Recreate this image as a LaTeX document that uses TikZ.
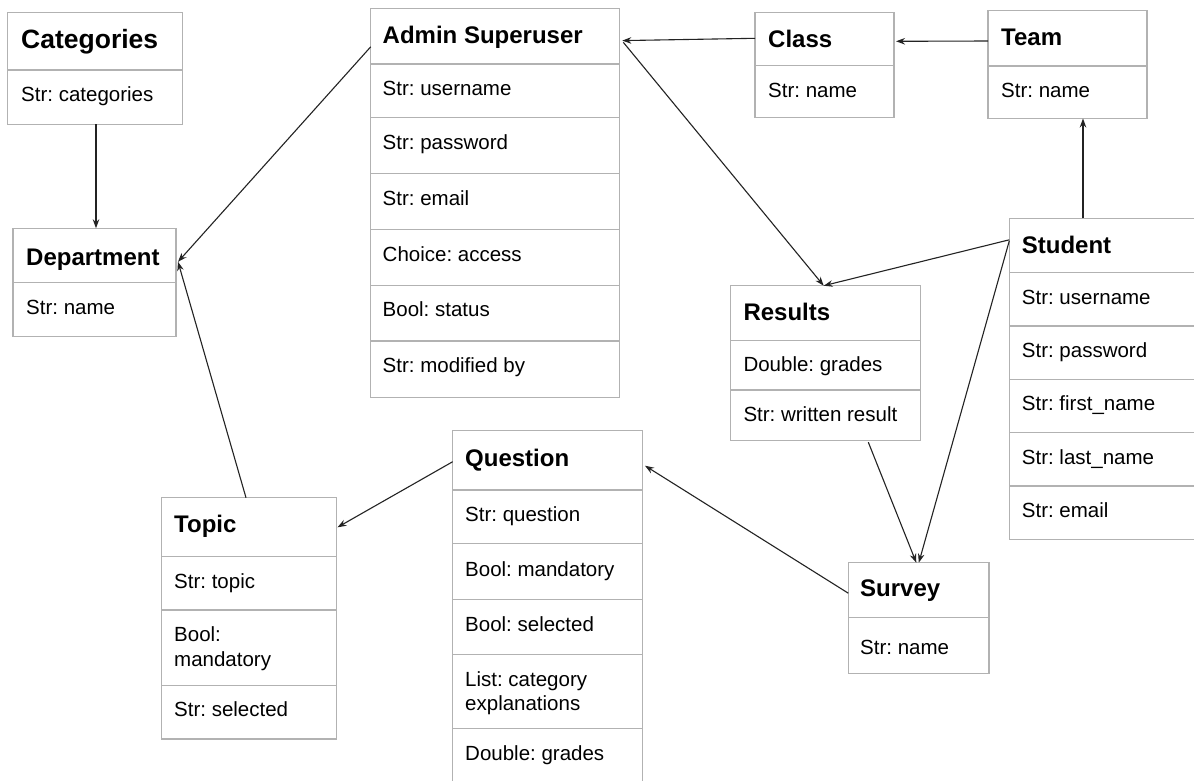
\documentclass[tikz,border=0pt]{standalone}
\usepackage{fontspec}
\setmainfont{Liberation Sans}
\usetikzlibrary{calc,arrows.meta}
\definecolor{boxgray}{RGB}{178,178,178}
\definecolor{linecol}{RGB}{35,35,35}
\frenchspacing
\begin{document}
\begin{tikzpicture}[x=1pt,y=-1pt,
  ent/.style={draw=boxgray,line width=1.3pt,rectangle,inner sep=0pt,outer sep=0pt,anchor=north west},
  divl/.style={draw=boxgray,line width=1.3pt},
  ttl/.style={anchor=base west,inner sep=0pt,font=\fontsize{24}{28}\selectfont\bfseries},
  bigttl/.style={anchor=base west,inner sep=0pt,font=\fontsize{26.5}{30}\selectfont\bfseries},
  attr/.style={anchor=base west,inner sep=0pt,font=\fontsize{20.5}{24}\selectfont},
  conn/.style={draw=linecol,line width=1.1pt,-{Stealth[length=9pt,width=6.5pt]}}]
\clip (0,0) rectangle (1194,780);
\fill[white] (0,0) rectangle (1194,780);

% Categories
\node[ent,minimum width=175pt,minimum height=112pt] (cat) at (7.5,12.3) {};
\draw[divl] (7.5,70) -- (182.5,70);
\node[bigttl] (catT) at (21,48.3) {Categories};
\node[attr] (catA) at (21,101.7) {Str: categories};

% Department
\node[ent,minimum width=163pt,minimum height=108pt] (dept) at (13,228.3) {};
\draw[divl] (13,282.5) -- (176,282.5);
\node[ttl] (deptT) at (26,265) {Department};
\node[attr] (deptA) at (26,314.5) {Str: name};

% Admin Superuser
\node[ent,minimum width=248.6pt,minimum height=389pt] (admin) at (370.7,8.3) {};
\foreach \y in {64,117.7,173.5,229.3,285.2,341}{\draw[divl] (370.7,\y) -- (619.3,\y);}
\node[ttl] (adminT) at (382.5,43.3) {Admin Superuser};
\node[attr] (admin1) at (382.5,95) {Str: username};
\node[attr] (admin2) at (382.5,149.5) {Str: password};
\node[attr] (admin3) at (382.5,205.3) {Str: email};
\node[attr] (admin4) at (382.5,261) {Choice: access};
\node[attr] (admin5) at (382.5,316.8) {Bool: status};
\node[attr] (admin6) at (382.5,372.5) {Str: modified by};

% Class
\node[ent,minimum width=139pt,minimum height=105pt] (class) at (755,12.3) {};
\draw[divl] (755,65.5) -- (894,65.5);
\node[ttl] (classT) at (768,47.5) {Class};
\node[attr] (classA) at (768,97.5) {Str: name};

% Team
\node[ent,minimum width=159pt,minimum height=108pt] (team) at (988,10.5) {};
\draw[divl] (988,66) -- (1147,66);
\node[ttl] (teamT) at (1001,45.5) {Team};
\node[attr] (teamA) at (1001,97.5) {Str: name};

% Student
\node[ent,minimum width=200pt,minimum height=321pt] (student) at (1009.3,218.3) {};
\foreach \y in {272.7,326,379.3,432.7,486}{\draw[divl] (1009.3,\y) -- (1209.3,\y);}
\node[ttl] (studentT) at (1021.7,253.3) {Student};
\node[attr] (student1) at (1021.7,304) {Str: username};
\node[attr] (student2) at (1021.7,357.3) {Str: password};
\node[attr] (student3) at (1021.7,410.7) {Str: first\_name};
\node[attr] (student4) at (1021.7,464) {Str: last\_name};
\node[attr] (student5) at (1021.7,517.3) {Str: email};

% Results
\node[ent,minimum width=190pt,minimum height=155pt] (results) at (730.7,285.7) {};
\draw[divl] (730.7,340.7) -- (920.7,340.7);
\draw[divl] (730.7,390) -- (920.7,390);
\node[ttl] (resultsT) at (743.3,320) {Results};
\node[attr] (results1) at (743.3,371.7) {Double: grades};
\node[attr] (results2) at (743.3,421.7) {Str: written result};

% Question
\node[ent,minimum width=189.6pt,minimum height=380pt] (question) at (452.7,430.7) {};
\foreach \y in {490,543.3,599.3,654.3,728.3}{\draw[divl] (452.7,\y) -- (642.3,\y);}
\node[ttl] (questionT) at (465,466) {Question};
\node[attr] (question1) at (465,521.7) {Str: question};
\node[attr] (question2) at (465,576) {Bool: mandatory};
\node[attr] (question3) at (465,631) {Bool: selected};
\node[attr] (question4) at (465,686) {List: category};
\node[attr] (question4b) at (465,710.5) {explanations};
\node[attr] (question5) at (465,760) {Double: grades};

% Topic
\node[ent,minimum width=175pt,minimum height=241.3pt] (topic) at (161.7,497.7) {};
\draw[divl] (161.7,556.7) -- (336.7,556.7);
\draw[divl] (161.7,610) -- (336.7,610);
\draw[divl] (161.7,685.7) -- (336.7,685.7);
\node[ttl] (topicT) at (174,532.7) {Topic};
\node[attr] (topic1) at (174,588.3) {Str: topic};
\node[attr] (topic2) at (174,641.7) {Bool:};
\node[attr] (topic2b) at (174,666.7) {mandatory};
\node[attr] (topic3) at (174,716.7) {Str: selected};

% Survey
\node[ent,minimum width=140.7pt,minimum height=110.6pt] (survey) at (848.3,562.7) {};
\draw[divl] (848.3,617.5) -- (989,617.5);
\node[ttl] (surveyT) at (860,596.7) {Survey};
\node[attr] (surveyA) at (860,654.3) {Str: name};

% Connectors
\draw[conn] ($(cat.south west)+(88.5,0)$) -- ($(dept.north west)+(83,0)$);
\draw[conn] ($(admin.north west)+(0,38.5)$) -- ($(dept.north east)+(2,33.5)$);
\draw[conn] ($(class.north west)+(0,26)$) -- ($(admin.north east)+(3,32.3)$);
\draw[conn] ($(team.north west)+(0,30.5)$) -- ($(class.north east)+(2,29)$);
\draw[conn] ($(admin.north east)+(4,34)$) -- ($(results.north west)+(93,0)$);
\draw[conn] ($(student.north west)+(73.7,0)$) -- ($(team.south west)+(95,0)$);
\draw[conn] ($(student.north west)+(0,21.5)$) -- ($(results.north west)+(93,0)$);
\draw[conn] ($(student.north west)+(0,22.5)$) -- ($(survey.north west)+(70.5,0)$);
\draw[conn] ($(results.south west)+(137.6,1.5)$) -- ($(survey.north west)+(68,0)$);
\draw[conn] ($(survey.north west)+(0,30.5)$) -- ($(question.north east)+(2.7,35)$);
\draw[conn] ($(question.north west)+(0,31)$) -- ($(topic.north east)+(0.8,29.6)$);
\draw[conn] ($(topic.north west)+(84.3,0)$) -- ($(dept.north east)+(2,33.5)$);
\end{tikzpicture}
\end{document}
